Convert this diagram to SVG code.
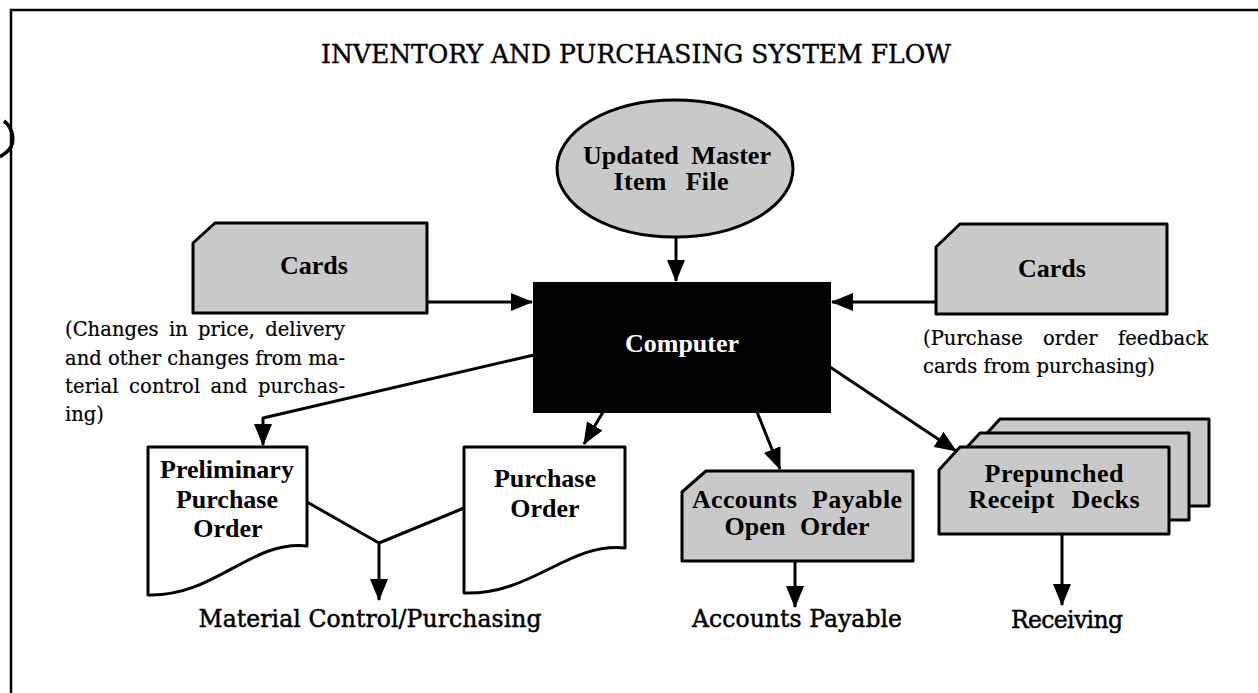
<svg xmlns="http://www.w3.org/2000/svg" width="1258" height="693" viewBox="0 0 1258 693">
<style>
.bg{fill:#ffffff}
.frame{fill:none;stroke:#000;stroke-width:2.5}
.shape{fill:#c9c9c9;stroke:#000;stroke-width:3;stroke-linejoin:round}
.doc{fill:#ffffff;stroke:#000;stroke-width:3;stroke-linejoin:round}
.comp{fill:#000;stroke:#000;stroke-width:2}
.conn{fill:none;stroke:#000;stroke-width:3;stroke-linejoin:round}
.lbl{font-family:"Liberation Serif","Times New Roman",serif;font-weight:bold;font-size:26px;fill:#000;text-anchor:middle}
.white{fill:#fff}
.para{font-family:"DejaVu Serif","Liberation Serif",serif;font-size:19.5px;fill:#000;stroke:#000;stroke-width:0.2}
.out{font-family:"DejaVu Serif","Liberation Serif",serif;font-size:23.5px;fill:#000;stroke:#000;stroke-width:0.5;text-anchor:middle}
.title{font-family:"DejaVu Serif","Liberation Serif",serif;font-size:25.5px;fill:#000;stroke:#000;stroke-width:0.4;text-anchor:middle}
</style>
<defs>
<marker id="arr" markerUnits="userSpaceOnUse" viewBox="0 0 22 18" markerWidth="22" markerHeight="18" refX="21" refY="9" orient="auto">
<path d="M0,0 L22,9 L0,18 Z" fill="#000"/>
</marker>
</defs>
<rect class="bg" x="0" y="0" width="1258" height="693"/>
<g id="frame">
<path class="frame" d="M11,693 V10 H1258"/>
<path d="M4,121 C12,127 15,139 11,147 C8,152 4,154 0,157" fill="none" stroke="#000" stroke-width="3.5"/>
</g>
<text id="title" class="title" x="636" y="63" textLength="630" lengthAdjust="spacingAndGlyphs">INVENTORY AND PURCHASING SYSTEM FLOW</text>
<g id="connectors">
<path class="conn" d="M676,237 V281" marker-end="url(#arr)"/>
<path class="conn" d="M427,302 H532" marker-end="url(#arr)"/>
<path class="conn" d="M936,302 H832" marker-end="url(#arr)"/>
<path class="conn" d="M534,355 L263,418 V445" marker-end="url(#arr)"/>
<path class="conn" d="M603,412 L584,444" marker-end="url(#arr)"/>
<path class="conn" d="M757,412 L780,469" marker-end="url(#arr)"/>
<path class="conn" d="M830,367 L956,451" marker-end="url(#arr)"/>
<path class="conn" d="M307,502 L379,543 L464,508"/>
<path class="conn" d="M379,543 V600" marker-end="url(#arr)"/>
<path class="conn" d="M795,561 V607" marker-end="url(#arr)"/>
<path class="conn" d="M1062,534 V605" marker-end="url(#arr)"/>
</g>
<g id="master-file">
<ellipse class="shape" cx="675" cy="168.5" rx="118" ry="68.5"/>
<text class="lbl" x="677" y="164" textLength="188" word-spacing="6">Updated Master</text>
<text class="lbl" x="671" y="190" textLength="115" word-spacing="12">Item File</text>
</g>
<g id="cards-left">
<path class="shape" d="M193,243 L215,223 H427 V313 H193 Z"/>
<text class="lbl" x="314" y="274">Cards</text>
<text class="para" x="65" y="336" textLength="280" word-spacing="4">(Changes in price, delivery</text>
<text class="para" x="65" y="365" textLength="280">and other changes from ma-</text>
<text class="para" x="65" y="393" textLength="280" word-spacing="4">terial control and purchas-</text>
<text class="para" x="65" y="421">ing)</text>
</g>
<g id="cards-right">
<path class="shape" d="M936,247 L960,224 H1167 V314 H936 Z"/>
<text class="lbl" x="1052" y="277">Cards</text>
<text class="para" x="923" y="345" textLength="285" word-spacing="14">(Purchase order feedback</text>
<text class="para" x="923" y="373">cards from purchasing)</text>
</g>
<g id="computer">
<rect class="comp" x="534" y="283" width="296" height="129"/>
<text class="lbl white" x="682" y="352">Computer</text>
</g>
<g id="preliminary-po">
<path class="doc" d="M148,447 H307 V546 C250,540 215,597 148,595 Z"/>
<text class="lbl" x="227" y="478">Preliminary</text>
<text class="lbl" x="227" y="508">Purchase</text>
<text class="lbl" x="228" y="537">Order</text>
</g>
<g id="purchase-order">
<path class="doc" d="M464,447 H625 V548 C568,542 533,595 464,593 Z"/>
<text class="lbl" x="545" y="487">Purchase</text>
<text class="lbl" x="545" y="517">Order</text>
</g>
<text id="out-material" class="out" x="370" y="627" textLength="343">Material Control/Purchasing</text>
<g id="ap-open-order">
<path class="shape" d="M682,492 L706,471 H913 V561 H682 Z"/>
<text class="lbl" x="797" y="508" textLength="210" word-spacing="8">Accounts Payable</text>
<text class="lbl" x="797" y="535" textLength="145" word-spacing="8">Open Order</text>
</g>
<text id="out-ap" class="out" x="797" y="627" textLength="210">Accounts Payable</text>
<g id="receipt-decks">
<path class="shape" d="M979,442 L1000,419 H1209 V506 H979 Z"/>
<path class="shape" d="M959,456 L980,433 H1189 V520 H959 Z"/>
<path class="shape" d="M939,470 L960,447 H1169 V534 H939 Z"/>
<text class="lbl" x="1054" y="482" textLength="139">Prepunched</text>
<text class="lbl" x="1054" y="508" textLength="171" word-spacing="10">Receipt Decks</text>
</g>
<text id="out-receiving" class="out" x="1067" y="628" textLength="112">Receiving</text>
</svg>
